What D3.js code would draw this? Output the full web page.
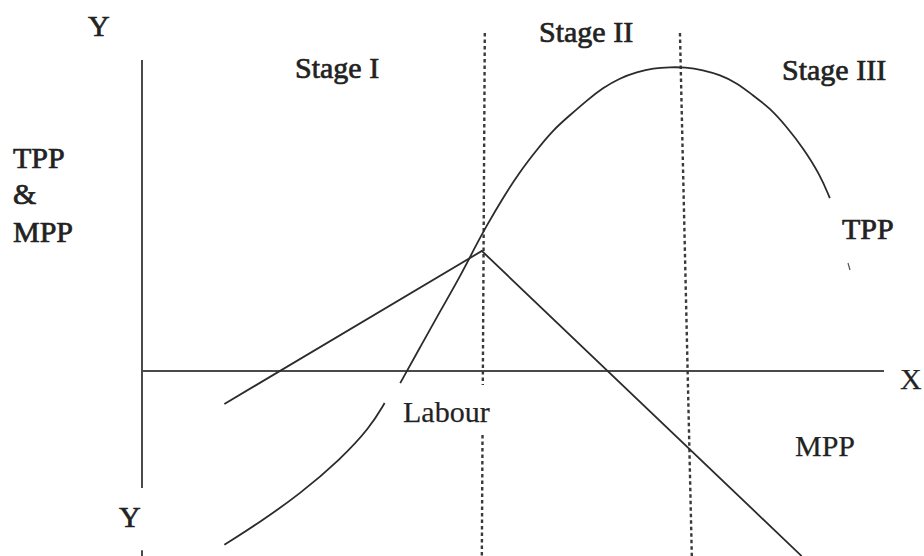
<!DOCTYPE html>
<html>
<head>
<meta charset="utf-8">
<script src="https://cdn.jsdelivr.net/npm/d3@7"></script>
<style>
  html, body { margin: 0; padding: 0; background: #fff; }
  svg { display: block; }
  text { font-family: "Liberation Serif", "Times New Roman", serif; fill: #222; }
</style>
</head>
<body>
<svg id="chart" width="924" height="556"></svg>
<script>
// ---- data (units: labour on x, product on y) ----
const tppLowerX = [11.1, 15.9, 21.3, 26.7, 30.7, 32.7];
const tppLowerY = [-55.9, -48.6, -39.5, -28.5, -18.3, -10.3];

const tppUpperX = [34.8, 37.5, 40.2, 42.9, 45.1, 46.2, 48.7, 50.9, 53.2, 55.4, 57.7, 60.0, 62.1, 64.4, 66.7, 68.9, 71.2, 73.2, 75.6, 77.9, 80.2, 82.3, 84.6, 86.9, 89.1, 91.4, 92.7];
const tppUpperY = [-3.9, 7.7, 19.3, 30.5, 40.8, 45.7, 55.9, 64.0, 71.1, 77.5, 82.3, 87.1, 91.0, 94.2, 96.1, 97.4, 97.7, 97.7, 96.8, 95.2, 92.6, 88.7, 84.6, 78.5, 71.7, 63.0, 55.6];

const mppX = [11.1, 45.8, 88.9];
const mppY = [-10.6, 38.6, -59.5];

const boundaryTopX = [46.2, 72.5];
const boundaryBottomX = [45.8, 74.1];
const boundaryTopY = 108.7;
const boundaryBottomY = -59.5;
const boundaryGaps = [[-4.5, -20.6], null];

const stageNames = ["Stage I", "Stage II", "Stage III"];
const curveNames = ["TPP", "MPP"];

// ---- layout ----
const svg = d3.select("#chart");
const x = d3.scaleLinear().domain([0, 100]).range([142, 884]);
const y = d3.scaleLinear().domain([0, 100]).range([371, 60]);

const axisColor = "#4a4a4a";
const curveColor = "#2b2b2b";

// axes
svg.append("line")
  .attr("x1", x(0)).attr("x2", x(0))
  .attr("y1", y(100)).attr("y2", y(-37.6))
  .attr("stroke", axisColor).attr("stroke-width", 2);
svg.append("line")
  .attr("x1", x(0)).attr("x2", x(0))
  .attr("y1", y(-57.6)).attr("y2", y(-59.6))
  .attr("stroke", axisColor).attr("stroke-width", 2);
svg.append("line")
  .attr("x1", x(0)).attr("x2", x(100))
  .attr("y1", y(0)).attr("y2", y(0))
  .attr("stroke", axisColor).attr("stroke-width", 2);

// stage boundaries (dotted)
boundaryTopX.forEach((tx, i) => {
  const bx = boundaryBottomX[i];
  const xAt = v => tx + (bx - tx) * (boundaryTopY - v) / (boundaryTopY - boundaryBottomY);
  const segs = boundaryGaps[i]
    ? [[boundaryTopY, boundaryGaps[i][0]], [boundaryGaps[i][1], boundaryBottomY]]
    : [[boundaryTopY, boundaryBottomY]];
  segs.forEach(([a, b]) => {
    svg.append("line")
      .attr("x1", x(xAt(a))).attr("y1", y(a))
      .attr("x2", x(xAt(b))).attr("y2", y(b))
      .attr("stroke", "#3a3a3a").attr("stroke-width", 2.4)
      .attr("stroke-dasharray", "3.5,3");
  });
});

const smooth = d3.line().x(d => x(d[0])).y(d => y(d[1])).curve(d3.curveBasis);

// TPP
svg.append("path")
  .datum(d3.zip(tppLowerX, tppLowerY))
  .attr("d", smooth).attr("fill", "none")
  .attr("stroke", curveColor).attr("stroke-width", 1.8);
svg.append("path")
  .datum(d3.zip(tppUpperX, tppUpperY))
  .attr("d", smooth).attr("fill", "none")
  .attr("stroke", curveColor).attr("stroke-width", 1.8);

// MPP
svg.append("path")
  .datum(d3.zip(mppX, mppY))
  .attr("d", d3.line().x(d => x(d[0])).y(d => y(d[1])))
  .attr("fill", "none")
  .attr("stroke", curveColor).attr("stroke-width", 1.8);

// small stray mark under TPP label
svg.append("line")
  .attr("x1", 848).attr("y1", 263).attr("x2", 850).attr("y2", 270)
  .attr("stroke", "#555").attr("stroke-width", 1.2);

// labels
const labels = [
  { t: "Y", x: 88, y: 36, b: true },
  { t: stageNames[0], x: 295, y: 78, b: true },
  { t: stageNames[1], x: 539, y: 42, b: true },
  { t: stageNames[2], x: 782, y: 80, b: true },
  { t: "TPP", x: 13, y: 168, b: true },
  { t: "&", x: 13, y: 204, b: true },
  { t: "MPP", x: 13, y: 242, b: true },
  { t: curveNames[0], x: 842, y: 239, b: true },
  { t: "Labour", x: 403, y: 422, b: false },
  { t: curveNames[1], x: 795, y: 456, b: false },
  { t: "X", x: 900, y: 389, b: false },
  { t: "Y", x: 119, y: 527, b: true }
];
svg.selectAll("text.lbl").data(labels).enter().append("text")
  .attr("class", "lbl")
  .attr("x", d => d.x).attr("y", d => d.y)
  .attr("font-size", 30)
  .attr("stroke", d => d.b ? "#222" : "#333")
  .attr("stroke-width", d => d.b ? 0.7 : 0.25)
  .text(d => d.t);
</script>
</body>
</html>
